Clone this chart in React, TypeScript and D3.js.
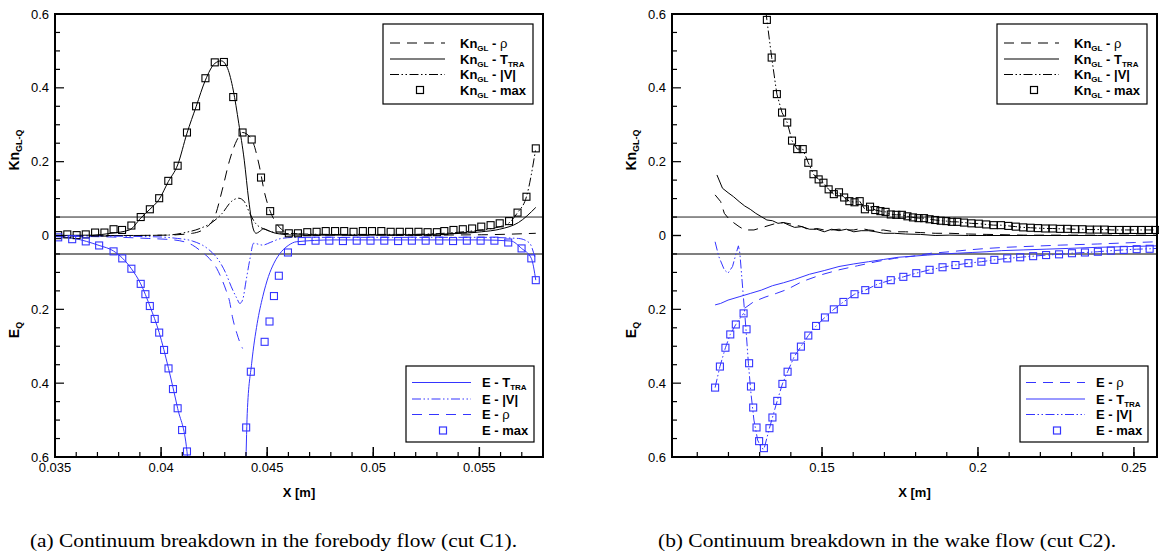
import React from 'react';
import * as d3 from 'd3';

// ---------------- Cut C1 (forebody) ----------------
const c1KnMaxX = [0.03515,0.03558,0.03602,0.03645,0.03689,0.03733,0.03776,0.03816,0.03860,0.03904,0.03947,0.03991,0.04034,0.04078,0.04122,0.04165,0.04209,0.04253,0.04296,0.04340,0.04384,0.04427,0.04471,0.04514,0.04558,0.04602,0.04645,0.04689,0.04733,0.04776,0.04820,0.04863,0.04907,0.04951,0.04994,0.05038,0.05082,0.05125,0.05169,0.05213,0.05256,0.05300,0.05335,0.05378,0.05422,0.05466,0.05509,0.05553,0.05596,0.05640,0.05680,0.05722,0.05766];
const c1KnMax = [0.001,0.003,0.001,0.003,0.008,0.008,0.017,0.015,0.027,0.050,0.071,0.101,0.148,0.189,0.279,0.350,0.426,0.469,0.470,0.375,0.279,0.260,0.157,0.066,0.019,0.006,0.006,0.009,0.010,0.012,0.012,0.012,0.010,0.012,0.012,0.012,0.010,0.010,0.010,0.010,0.009,0.009,0.012,0.015,0.017,0.019,0.024,0.028,0.033,0.039,0.062,0.105,0.236];

const c1KnTX = [0.03502,0.03677,0.03764,0.03851,0.03904,0.03947,0.03991,0.04034,0.04078,0.04122,0.04165,0.04209,0.04253,0.04284,0.04314,0.04340,0.04366,0.04392,0.04413,0.04436,0.04448,0.04462,0.04483,0.04506,0.04540,0.04637,0.04811,0.04986,0.05160,0.05335,0.05509,0.05596,0.05684,0.05766];
const c1KnT = [0.000,0.001,0.006,0.015,0.047,0.071,0.098,0.146,0.191,0.277,0.349,0.421,0.466,0.473,0.452,0.394,0.304,0.204,0.096,0.015,0.006,0.010,0.018,0.013,0.006,0.001,0.001,0.001,0.002,0.004,0.010,0.017,0.035,0.076];

const c1KnRhoX = [0.03502,0.03764,0.04026,0.04148,0.04218,0.04253,0.04288,0.04323,0.04357,0.04384,0.04427,0.04462,0.04488,0.04514,0.04540,0.04567,0.04602,0.04811,0.05160,0.05509,0.05766];
const c1KnRho = [0.000,0.000,0.001,0.006,0.024,0.051,0.123,0.204,0.258,0.279,0.260,0.191,0.115,0.066,0.036,0.017,0.006,0.001,0.001,0.002,0.006];

const c1KnVelX = [0.03502,0.03851,0.04026,0.04113,0.04183,0.04244,0.04288,0.04331,0.04366,0.04392,0.04418,0.04445,0.04497,0.04567,0.04811,0.05160,0.05509,0.05631,0.05680,0.05722,0.05766];
const c1KnVel = [0.000,0.000,0.001,0.008,0.019,0.037,0.060,0.092,0.101,0.092,0.060,0.033,0.015,0.006,0.003,0.003,0.015,0.031,0.062,0.105,0.236];

const c1EMaxX = [0.03515,0.03581,0.03645,0.03708,0.03776,0.03817,0.03860,0.03904,0.03926,0.03947,0.03970,0.03991,0.04014,0.04035,0.04056,0.04078,0.04099,0.04122,
  0.04401,0.04423,0.04488,0.04511,0.04532,0.04555,0.04598,
  0.04663,0.04728,0.04793,0.04857,0.04922,0.04987,0.05052,0.05117,0.05182,0.05247,0.05311,0.05376,0.05441,0.05506,0.05571,0.05636,
  0.05699,0.05745,0.05766];
const c1EMax = [0.005,0.010,0.016,0.027,0.043,0.062,0.090,0.131,0.159,0.191,0.226,0.263,0.310,0.360,0.416,0.468,0.527,0.585,
  0.520,0.369,0.288,0.233,0.164,0.109,0.046,
  0.015,0.014,0.014,0.015,0.014,0.014,0.014,0.015,0.014,0.014,0.014,0.015,0.014,0.014,0.014,0.019,
  0.035,0.062,0.121];

const c1ETX = [0.03502,0.03590,0.03708,0.03776,0.03860,0.03904,0.03947,0.03991,0.04035,0.04078,0.04122,0.04131,0.04270,0.04398,0.04406,0.04427,0.04453,0.04479,0.04506,0.04532,0.04567,0.04602,0.04637,0.04811,0.05160,0.05509,0.05649,0.05699,0.05745,0.05766];
const c1ET = [0.003,0.008,0.027,0.042,0.090,0.131,0.191,0.263,0.360,0.468,0.585,0.64,1.4,0.64,0.482,0.346,0.238,0.166,0.111,0.075,0.044,0.026,0.017,0.012,0.012,0.012,0.015,0.035,0.062,0.121];

const c1ERhoX = [0.03502,0.03764,0.03939,0.04061,0.04148,0.04191,0.04227,0.04262,0.04288,0.04306,0.04323,0.04336,0.04357,0.04373,0.04384];
const c1ERho = [0.002,0.004,0.008,0.012,0.026,0.044,0.062,0.089,0.121,0.148,0.179,0.220,0.265,0.292,0.306];

const c1EVelX = [0.03502,0.03939,0.04078,0.04148,0.04218,0.04270,0.04305,0.04331,0.04357,0.04371,0.04384,0.04401,0.04418,0.04436,0.04479,0.04514,0.04567,0.04637,0.04986,0.05509,0.05684,0.05736,0.05762];
const c1EVel = [0.001,0.003,0.008,0.015,0.035,0.066,0.102,0.139,0.170,0.184,0.175,0.121,0.066,0.021,0.026,0.019,0.008,0.005,0.005,0.005,0.008,0.020,0.060];

// ---------------- Cut C2 (wake) ----------------
const c2KnMaxX = [0.13232,0.13386,0.13552,0.13718,0.13884,0.14038,0.14204,0.14382,0.14560,0.14726,0.14892,0.15046,0.15212,0.15378,0.15544,0.15710,0.15876,0.16042,0.16208,0.16374,0.16540,0.16706,0.16872,0.17038,0.17204,0.17382,0.17560,0.17738,0.17916,0.18094,0.18271,0.18449,0.18627,0.18805,0.18983,0.19161,0.19339,0.19551,0.19788,0.20026,0.20263,0.20500,0.20737,0.20974,0.21212,0.21449,0.21686,0.21923,0.22160,0.22397,0.22635,0.22872,0.23109,0.23346,0.23583,0.23820,0.24058,0.24295,0.24532,0.24769,0.25006,0.25244,0.25481,0.25683];
const c2KnMax = [0.584,0.482,0.383,0.333,0.306,0.257,0.234,0.234,0.197,0.166,0.152,0.143,0.125,0.112,0.117,0.103,0.093,0.090,0.093,0.071,0.078,0.069,0.066,0.064,0.057,0.056,0.056,0.052,0.049,0.047,0.047,0.044,0.042,0.040,0.039,0.037,0.037,0.035,0.033,0.032,0.030,0.028,0.028,0.026,0.024,0.022,0.021,0.020,0.019,0.019,0.018,0.018,0.017,0.017,0.016,0.016,0.016,0.015,0.015,0.015,0.015,0.015,0.015,0.015];

// |V| line runs above the frame, then through the max symbols
const c2KnVelX = [0.13120, ...c2KnMaxX];
const c2KnVel = [0.66, ...c2KnMax];

const c2KnTX = [0.11631,0.11809,0.11987,0.12164,0.12342,0.12520,0.12698,0.12876,0.13054,0.13232,0.13410,0.13588,0.13765,0.13943,0.14121,0.14358,0.14596,0.14833,0.15070,0.15307,0.15544,0.15781,0.16018,0.16255,0.16493,0.16730,0.16967,0.17323,0.17678,0.18153,0.18627,0.19101,0.19694,0.20287,0.21473,0.22659,0.23844,0.25741];
const c2KnT = [0.164,0.128,0.116,0.105,0.092,0.080,0.071,0.060,0.051,0.042,0.040,0.033,0.035,0.028,0.022,0.024,0.017,0.017,0.010,0.017,0.013,0.017,0.010,0.013,0.013,0.010,0.006,0.006,0.004,0.003,0.000,0.001,0.000,0.000,0.000,0.000,0.000,0.000];

const c2KnRhoX = [0.11572,0.11749,0.11868,0.12046,0.12342,0.12520,0.12817,0.13172,0.13528,0.13765,0.14003,0.14358,0.14596,0.14833,0.15070,0.15307,0.15544,0.15781,0.16018,0.16255,0.16493,0.16730,0.16967,0.17323,0.17678,0.18153,0.18627,0.19101,0.19694,0.20287,0.21473,0.22659,0.25741];
const c2KnRho = [0.110,0.092,0.060,0.042,0.024,0.015,0.015,0.024,0.033,0.035,0.031,0.024,0.015,0.019,0.015,0.015,0.017,0.015,0.015,0.019,0.015,0.013,0.015,0.010,0.010,0.008,0.006,0.006,0.004,0.003,0.001,0.001,0.001];

const c2EMaxX = [0.11572,0.11726,0.11903,0.12058,0.12236,0.12485,0.12580,0.12662,0.12722,0.12793,0.12900,0.12983,0.13137,0.13315,0.13410,0.13564,0.13730,0.13896,0.14109,0.14323,0.14560,0.14809,0.15093,0.15378,0.15686,0.16042,0.16386,0.16801,0.17204,0.17607,0.18022,0.18449,0.18864,0.19279,0.19694,0.20109,0.20524,0.20939,0.21354,0.21769,0.22184,0.22599,0.23014,0.23429,0.23844,0.24259,0.24674,0.25089,0.25504];
const c2EMax = [0.412,0.355,0.304,0.268,0.241,0.211,0.254,0.346,0.409,0.466,0.520,0.557,0.576,0.522,0.493,0.448,0.402,0.369,0.328,0.301,0.271,0.245,0.222,0.200,0.180,0.159,0.148,0.131,0.121,0.112,0.102,0.093,0.086,0.080,0.075,0.071,0.066,0.062,0.059,0.056,0.053,0.051,0.048,0.046,0.044,0.041,0.039,0.037,0.036];

const c2EVelX = [0.11572,0.11690,0.11868,0.11987,0.12131,0.12247,0.12319,0.12366,0.12461,0.12556,0.12639,0.12722,0.12817,0.12935,0.13054,0.13137,0.13315,0.13410,0.13564,0.13730,0.13896,0.14109,0.14323,0.14560,0.14809,0.15093,0.15378,0.15686,0.16042,0.16386,0.16801,0.17204,0.17607,0.18022,0.18449,0.18864,0.19279,0.19694,0.20109,0.20524,0.20939,0.21354,0.21769,0.22184,0.22599,0.23014,0.23429,0.23844,0.24259,0.24674,0.25089,0.25504,0.25741];
const c2EVel = [0.017,0.057,0.093,0.102,0.084,0.048,0.028,0.048,0.148,0.247,0.346,0.428,0.500,0.554,0.576,0.579,0.522,0.493,0.448,0.402,0.369,0.328,0.301,0.271,0.245,0.222,0.200,0.180,0.159,0.148,0.131,0.121,0.112,0.102,0.093,0.086,0.080,0.075,0.071,0.066,0.062,0.059,0.056,0.053,0.051,0.048,0.046,0.044,0.041,0.039,0.037,0.036,0.035];

const c2EVelBranchX = [0.11572,0.11726,0.11903,0.12058,0.12236,0.12485];
const c2EVelBranch = [0.412,0.355,0.304,0.268,0.241,0.211];

const c2ETX = [0.11572,0.11749,0.11987,0.12342,0.12698,0.13054,0.13410,0.13765,0.14121,0.14596,0.15070,0.15544,0.16018,0.16493,0.16967,0.17441,0.17916,0.18390,0.18864,0.19339,0.19813,0.20287,0.20761,0.21473,0.22184,0.22896,0.23844,0.24793,0.25741];
const c2ET = [0.188,0.184,0.175,0.166,0.157,0.148,0.136,0.128,0.119,0.105,0.095,0.084,0.077,0.071,0.065,0.059,0.056,0.053,0.050,0.048,0.046,0.044,0.041,0.039,0.037,0.035,0.032,0.030,0.028];

const c2ERhoX = [0.12520,0.12817,0.13172,0.13528,0.13884,0.14358,0.14951,0.15544,0.16137,0.16730,0.17323,0.17916,0.18508,0.19101,0.19694,0.20287,0.20880,0.21473,0.22659,0.23844,0.25030,0.25741];
const c2ERho = [0.197,0.179,0.167,0.157,0.146,0.125,0.107,0.093,0.082,0.071,0.062,0.056,0.048,0.044,0.039,0.035,0.032,0.030,0.026,0.023,0.019,0.017];

// ---------------- ticks / labels ----------------
const yTickValues = [0, 0.2, 0.4, 0.6];
const yTickLabels = ['0', '0.2', '0.4', '0.6'];
const c1XTicks = [0.035, 0.04, 0.045, 0.05, 0.055];
const c1XTickLabels = ['0.035', '0.04', '0.045', '0.05', '0.055'];
const c2XTicks = [0.15, 0.2, 0.25];
const c2XTickLabels = ['0.15', '0.2', '0.25'];
const thresholdValue = 0.05;

const BLUE = '#3535ff';
const SANS = "'Liberation Sans', Arial, Helvetica, sans-serif";
const SERIF = "'Liberation Serif', 'Times New Roman', serif";
const DASH = '10,7';
const DASHDOT = '9,2.5,1.5,2.5,1.5,2.5';

const TOP = 14;
const BOTTOM = 457;
const MID = (TOP + BOTTOM) / 2;
const yK = d3.scaleLinear().domain([0, 0.6]).range([MID, TOP]);
const yE = d3.scaleLinear().domain([0, 0.6]).range([MID, BOTTOM]);

type Ser = { xs: number[]; ys: number[]; half: 'k' | 'e'; color: string; dash?: string; curve?: any };
type LegItem = { label: React.ReactNode; color: string; dash?: string; square?: boolean };

function makePath(s: Ser, xs: d3.ScaleLinear<number, number>) {
  const ys = s.half === 'k' ? yK : yE;
  const pts: [number, number][] = s.xs.map((x, i) => [x, s.ys[i]]);
  return d3.line<[number, number]>().x((d) => xs(d[0])).y((d) => ys(d[1])).curve(s.curve || d3.curveLinear)(pts) || '';
}

function Legend({ items, left, top, width, height, rowY, lineX0, lineX1, textX, sqX }: any) {
  return (
    <g>
      <rect x={left} y={top} width={width} height={height} fill="white" stroke="#000" strokeWidth={1.2} />
      {items.map((it: LegItem, i: number) => (
        <g key={i}>
          {it.square ? (
            <rect x={left + sqX - 3.5} y={rowY[i] - 3.5} width={7} height={7} fill="none" stroke={it.color} strokeWidth={1.2} />
          ) : (
            <line x1={left + lineX0} x2={left + lineX1} y1={rowY[i]} y2={rowY[i]} stroke={it.color} strokeWidth={1.1} strokeDasharray={it.dash} />
          )}
          <text x={left + textX} y={rowY[i] + 4.5} fontFamily={SANS} fontSize={13} fontWeight="bold" fill="#000">{it.label}</text>
        </g>
      ))}
    </g>
  );
}

const kn = (rest: React.ReactNode) => (
  <>Kn<tspan fontSize={8} dy={3}>GL</tspan><tspan dy={-3}> - </tspan>{rest}</>
);
const eL = (rest: React.ReactNode) => (<>E - {rest}</>);
const rho = <tspan fontWeight="normal">ρ</tspan>;
const ttra = <>T<tspan fontSize={8} dy={3}>TRA</tspan></>;

function Panel(props: {
  id: string; x0: number; x1: number; domain: [number, number];
  ticks: number[]; tickLabels: string[]; minor: number[];
  series: Ser[]; knSq: [number[], number[]]; eSq: [number[], number[]];
  knLeg: LegItem[]; eLeg: LegItem[];
}) {
  const { id, x0, x1, domain } = props;
  const xs = d3.scaleLinear().domain(domain).range([x0, x1]);
  const yMinor = d3.range(0, 0.6001, 0.05);
  const isMajorY = (v: number) => Math.abs(v / 0.2 - Math.round(v / 0.2)) < 1e-6;
  return (
    <g>
      <defs>
        <clipPath id={id}>
          <rect x={x0} y={TOP} width={x1 - x0} height={BOTTOM - TOP} />
        </clipPath>
      </defs>
      {/* threshold lines */}
      <line x1={x0} x2={x1} y1={yK(thresholdValue)} y2={yK(thresholdValue)} stroke="#222" strokeWidth={1} />
      <line x1={x0} x2={x1} y1={yE(thresholdValue)} y2={yE(thresholdValue)} stroke="#555" strokeWidth={1.4} />
      {/* series */}
      <g clipPath={`url(#${id})`}>
        {props.series.map((s, i) => (
          <path key={i} d={makePath(s, xs)} fill="none" stroke={s.color} strokeWidth={1} strokeDasharray={s.dash} />
        ))}
      </g>
      {props.knSq[0].map((x, i) => (
        <rect key={'k' + i} x={xs(x) - 3.5} y={yK(props.knSq[1][i]) - 3.5} width={7} height={7} fill="none" stroke="#000" strokeWidth={1.1} />
      ))}
      {props.eSq[0].map((x, i) => (
        <rect key={'e' + i} x={xs(x) - 3.5} y={yE(props.eSq[1][i]) - 3.5} width={7} height={7} fill="none" stroke={BLUE} strokeWidth={1.1} />
      ))}
      {/* y ticks */}
      {yMinor.map((v, i) => (
        <g key={'yt' + i}>
          <line x1={x0} x2={x0 + (isMajorY(v) ? 9 : 5)} y1={yK(v)} y2={yK(v)} stroke="#000" strokeWidth={1.2} />
          <line x1={x0} x2={x0 + (isMajorY(v) ? 9 : 5)} y1={yE(v)} y2={yE(v)} stroke="#000" strokeWidth={1.2} />
        </g>
      ))}
      {yTickValues.map((v, i) => (
        <g key={'yl' + i} fontFamily={SANS} fontSize={13} textAnchor="end">
          <text x={x0 - 6} y={yK(v) + 4.5}>{yTickLabels[i]}</text>
          {v > 0 && <text x={x0 - 6} y={yE(v) + 4.5}>{yTickLabels[i]}</text>}
        </g>
      ))}
      {/* x ticks */}
      {props.minor.map((v, i) => (
        <line key={'xm' + i} x1={xs(v)} x2={xs(v)} y1={BOTTOM} y2={BOTTOM - 5} stroke="#000" strokeWidth={1.2} />
      ))}
      {props.ticks.map((v, i) => (
        <g key={'xt' + i}>
          <line x1={xs(v)} x2={xs(v)} y1={BOTTOM} y2={BOTTOM - 10} stroke="#000" strokeWidth={1.5} />
          <text x={xs(v)} y={472} fontFamily={SANS} fontSize={13} textAnchor="middle">{props.tickLabels[i]}</text>
        </g>
      ))}
      {/* frame */}
      <rect x={x0} y={TOP} width={x1 - x0} height={BOTTOM - TOP} fill="none" stroke="#000" strokeWidth={2} />
      {/* axis titles */}
      <text x={(x0 + x1) / 2} y={497} fontFamily={SANS} fontSize={13} fontWeight="bold" textAnchor="middle">X [m]</text>
      <text transform={`translate(${x0 - 36},150) rotate(-90)`} fontFamily={SANS} fontSize={14} fontWeight="bold" textAnchor="middle">
        Kn<tspan fontSize={9} dy={3}>GL-Q</tspan>
      </text>
      <text transform={`translate(${x0 - 36},330) rotate(-90)`} fontFamily={SANS} fontSize={14} fontWeight="bold" textAnchor="middle">
        E<tspan fontSize={9} dy={3}>Q</tspan>
      </text>
      {/* legends */}
      <Legend items={props.knLeg} left={x1 - 160} top={24} width={150} height={80}
        rowY={[43, 59, 74.5, 90]} lineX0={7} lineX1={62} textX={77} sqX={37} />
      <Legend items={props.eLeg} left={x1 - 137} top={366} width={128} height={76}
        rowY={[382.5, 399, 414.5, 430.5]} lineX0={6} lineX1={65} textX={76} sqX={37} />
    </g>
  );
}

export default function App() {
  const mono = d3.curveMonotoneX;
  const c1Series: Ser[] = [
    { xs: c1KnRhoX, ys: c1KnRho, half: 'k', color: '#000', dash: DASH, curve: mono },
    { xs: c1KnTX, ys: c1KnT, half: 'k', color: '#000', curve: mono },
    { xs: c1KnVelX, ys: c1KnVel, half: 'k', color: '#000', dash: DASHDOT, curve: mono },
    { xs: c1ETX, ys: c1ET, half: 'e', color: BLUE, curve: mono },
    { xs: c1ERhoX, ys: c1ERho, half: 'e', color: BLUE, dash: DASH, curve: mono },
    { xs: c1EVelX, ys: c1EVel, half: 'e', color: BLUE, dash: DASHDOT, curve: mono },
  ];
  const c2Series: Ser[] = [
    { xs: c2KnRhoX, ys: c2KnRho, half: 'k', color: '#000', dash: DASH },
    { xs: c2KnTX, ys: c2KnT, half: 'k', color: '#000' },
    { xs: c2KnVelX, ys: c2KnVel, half: 'k', color: '#000', dash: DASHDOT },
    { xs: c2ETX, ys: c2ET, half: 'e', color: BLUE },
    { xs: c2ERhoX, ys: c2ERho, half: 'e', color: BLUE, dash: DASH },
    { xs: c2EVelX, ys: c2EVel, half: 'e', color: BLUE, dash: DASHDOT },
    { xs: c2EVelBranchX, ys: c2EVelBranch, half: 'e', color: BLUE, dash: DASHDOT },
  ];
  const knLeg: LegItem[] = [
    { label: kn(rho), color: '#000', dash: DASH },
    { label: kn(ttra), color: '#000' },
    { label: kn('|V|'), color: '#000', dash: DASHDOT },
    { label: kn('max'), color: '#000', square: true },
  ];
  const c1ELeg: LegItem[] = [
    { label: eL(ttra), color: BLUE },
    { label: eL('|V|'), color: BLUE, dash: DASHDOT },
    { label: eL(rho), color: BLUE, dash: DASH },
    { label: eL('max'), color: BLUE, square: true },
  ];
  const c2ELeg: LegItem[] = [
    { label: eL(rho), color: BLUE, dash: DASH },
    { label: eL(ttra), color: BLUE },
    { label: eL('|V|'), color: BLUE, dash: DASHDOT },
    { label: eL('max'), color: BLUE, square: true },
  ];
  return (
    <svg width={1159} height={556} style={{ position: 'absolute', left: 0, top: 0, display: 'block' }}>
      <rect x={0} y={0} width={1159} height={556} fill="white" />
      <Panel id="clipC1" x0={55} x1={543} domain={[0.035, 0.058]}
        ticks={c1XTicks} tickLabels={c1XTickLabels} minor={d3.range(0.036, 0.0581, 0.001)}
        series={c1Series} knSq={[c1KnMaxX, c1KnMax]} eSq={[c1EMaxX, c1EMax]}
        knLeg={knLeg} eLeg={c1ELeg} />
      <Panel id="clipC2" x0={672} x1={1157} domain={[0.1019, 0.2574]}
        ticks={c2XTicks} tickLabels={c2XTickLabels} minor={d3.range(0.11, 0.2575, 0.01)}
        series={c2Series} knSq={[c2KnMaxX, c2KnMax]} eSq={[c2EMaxX, c2EMax]}
        knLeg={knLeg} eLeg={c2ELeg} />
      <text x={30} y={547} fontFamily={SERIF} fontSize={18} textLength={487} lengthAdjust="spacingAndGlyphs">
        (a)  Continuum breakdown in the forebody flow (cut C1).
      </text>
      <text x={658} y={547} fontFamily={SERIF} fontSize={18} textLength={458} lengthAdjust="spacingAndGlyphs">
        (b)  Continuum breakdown in the wake flow (cut C2).
      </text>
    </svg>
  );
}
